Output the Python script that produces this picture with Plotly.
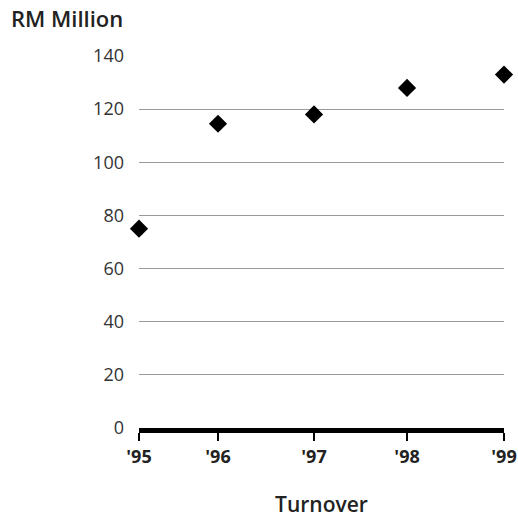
import plotly.graph_objects as go

years = ["'95", "'96", "'97", "'98", "'99"]
x_pos = [0.0, 0.823, 1.823, 2.792, 3.802]
turnover = [75, 114.5, 118, 128, 133]
y_ticks = [0, 20, 40, 60, 80, 100, 120, 140]

fig = go.Figure()
fig.add_trace(go.Scatter(
    x=x_pos, y=turnover, mode="markers",
    marker=dict(symbol="diamond", size=14, color="black"),
    cliponaxis=False, showlegend=False,
))

fig.update_layout(
    width=518, height=520,
    margin=dict(l=139, r=14, t=56, b=92, autoexpand=False),
    paper_bgcolor="white", plot_bgcolor="white",
    font=dict(family="Open Sans", color="#222"),
    xaxis=dict(
        range=[x_pos[0], x_pos[-1]], automargin=False,
        tickmode="array", tickvals=x_pos, ticktext=years,
        showgrid=False, zeroline=False,
        showline=True, linewidth=5, linecolor="black",
        ticks="outside", ticklen=8, tickwidth=1.5, tickcolor="black",
        tickfont=dict(size=18, family="Open Sans", weight="bold", color="#222"),
        title=dict(text="Turnover", font=dict(size=21, color="#222", weight=600), standoff=32),
    ),
    yaxis=dict(
        range=[0, 140], automargin=False,
        tickmode="array", tickvals=y_ticks,
        showgrid=True, gridcolor="#999", gridwidth=1,
        zeroline=False, showline=False, ticks="",
        ticklabelstandoff=14,
        tickfont=dict(size=18, color="#333"),
    ),
)
fig.add_annotation(
    text="RM Million", xref="paper", yref="paper",
    x=-139/365, y=1, xanchor="left", yanchor="bottom",
    xshift=9, yshift=21, showarrow=False,
    font=dict(size=22, color="#222", weight=600),
)
fig.write_html("out.html")
